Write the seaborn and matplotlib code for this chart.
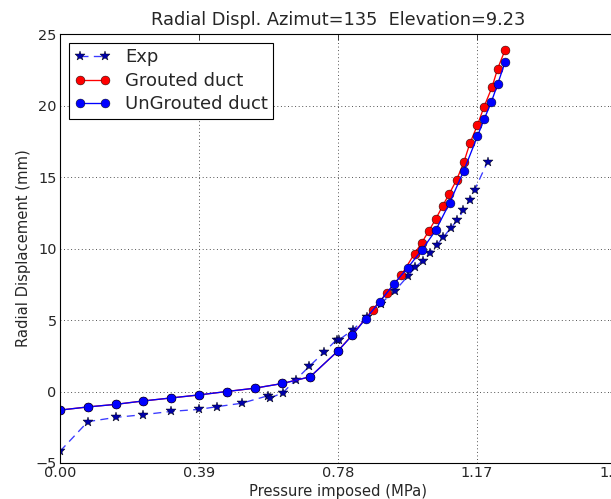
import matplotlib
matplotlib.use("Agg")
import matplotlib.pyplot as plt
import seaborn as sns
import pandas as pd

# Data
exp_x = [0.0, 0.078, 0.156, 0.234, 0.312, 0.39, 0.441, 0.51, 0.583, 0.588, 0.626,
         0.661, 0.70, 0.741, 0.776, 0.782, 0.821, 0.86, 0.90, 0.94, 0.977, 0.996,
         1.018, 1.038, 1.057, 1.076, 1.096, 1.115, 1.132, 1.149, 1.163, 1.2]
exp_y = [-4.18, -2.11, -1.81, -1.62, -1.39, -1.25, -1.06, -0.82, -0.30, -0.48, -0.07,
         0.81, 1.77, 2.75, 3.62, 3.60, 4.30, 5.2, 6.15, 7.05, 8.1, 8.68,
         9.15, 9.69, 10.25, 10.8, 11.43, 11.98, 12.68, 13.37, 14.08, 16.08]

grouted_x = [0.0, 0.078, 0.156, 0.234, 0.312, 0.39, 0.468, 0.546, 0.624, 0.702, 0.78,
             0.82, 0.877, 0.918, 0.957, 0.995, 1.015, 1.034, 1.054, 1.074, 1.092,
             1.113, 1.133, 1.150, 1.171, 1.19, 1.212, 1.228, 1.249]
grouted_y = [-1.30, -1.08, -0.90, -0.66, -0.45, -0.24, 0.0, 0.23, 0.56, 1.03, 2.84,
             3.96, 5.72, 6.92, 8.12, 9.65, 10.4, 11.2, 12.05, 13.0, 13.82,
             14.81, 16.03, 17.35, 18.61, 19.93, 21.27, 22.58, 23.9]

ungrouted_x = [0.0, 0.078, 0.156, 0.234, 0.312, 0.39, 0.468, 0.546, 0.624, 0.702, 0.78,
               0.82, 0.858, 0.897, 0.936, 0.976, 1.015, 1.054, 1.093, 1.133, 1.171,
               1.19, 1.21, 1.228, 1.249]
ungrouted_y = [-1.30, -1.08, -0.90, -0.66, -0.45, -0.24, 0.0, 0.23, 0.56, 1.03, 2.84,
               3.93, 5.10, 6.27, 7.49, 8.67, 9.88, 11.27, 13.18, 15.44, 17.84,
               19.04, 20.23, 21.5, 23.05]

x_ticks = [0.00, 0.39, 0.78, 1.17, 1.56]
y_ticks = [-5, 0, 5, 10, 15, 20, 25]

title = "Radial Displ. Azimut=135  Elevation=9.23"
xlabel = "Pressure imposed (MPa)"
ylabel = "Radial Displacement (mm)"

sns.set_style("white")
plt.rcParams['font.family'] = ['DejaVu Sans']
plt.rcParams['font.size'] = 13

DPI = 80
fig = plt.figure(figsize=(611 / DPI, 499 / DPI), dpi=DPI)
ax = fig.add_axes([60 / 611, 36 / 499, 556 / 611, 429 / 499])

df_exp = pd.DataFrame({"x": exp_x, "y": exp_y})
df_g = pd.DataFrame({"x": grouted_x, "y": grouted_y})
df_u = pd.DataFrame({"x": ungrouted_x, "y": ungrouted_y})

sns.lineplot(data=df_exp, x="x", y="y", ax=ax, sort=False, estimator=None,
             color="#3a3aff", linestyle=(0, (6, 4)), linewidth=1.2, marker="*",
             markersize=9, markerfacecolor="#0000aa", markeredgecolor="black",
             markeredgewidth=0.4, label="Exp")
sns.lineplot(data=df_g, x="x", y="y", ax=ax, sort=False, estimator=None,
             color="red", linestyle="-", linewidth=1.2, marker="o",
             markersize=8, markerfacecolor="red", markeredgecolor="black",
             markeredgewidth=0.4, label="Grouted duct")
sns.lineplot(data=df_u, x="x", y="y", ax=ax, sort=False, estimator=None,
             color="blue", linestyle="-", linewidth=1.2, marker="o",
             markersize=8, markerfacecolor="blue", markeredgecolor="black",
             markeredgewidth=0.4, label="UnGrouted duct")

ax.set_xlim(0, 1.56)
ax.set_ylim(-5, 25)
ax.set_xticks(x_ticks)
ax.set_xticklabels([f"{v:.2f}" for v in x_ticks])
ax.set_yticks(y_ticks)
ax.set_yticklabels([str(v).replace('-', '\u2212') for v in y_ticks])
ax.tick_params(direction="in", top=True, right=True, length=5, width=0.8,
               labelsize=13, pad=3)
ax.grid(True, color="#333333", linestyle=(0, (1, 3)), linewidth=0.8)
for s in ax.spines.values():
    s.set_color("black")
    s.set_linewidth(1.0)

ax.set_title(title, fontsize=16, pad=8)
ax.set_xlabel(xlabel, fontsize=13.3, labelpad=3)
ax.set_ylabel(ylabel, fontsize=13.3, labelpad=4)

leg = ax.legend(loc="upper left", fontsize=16.2, frameon=True, fancybox=False,
                framealpha=1, edgecolor="black", numpoints=2,
                borderaxespad=0.5, handlelength=2.0, labelspacing=0.3,
                borderpad=0.3, handletextpad=0.8)
leg.get_frame().set_linewidth(1.0)

fig.savefig("out.png", dpi=DPI)
